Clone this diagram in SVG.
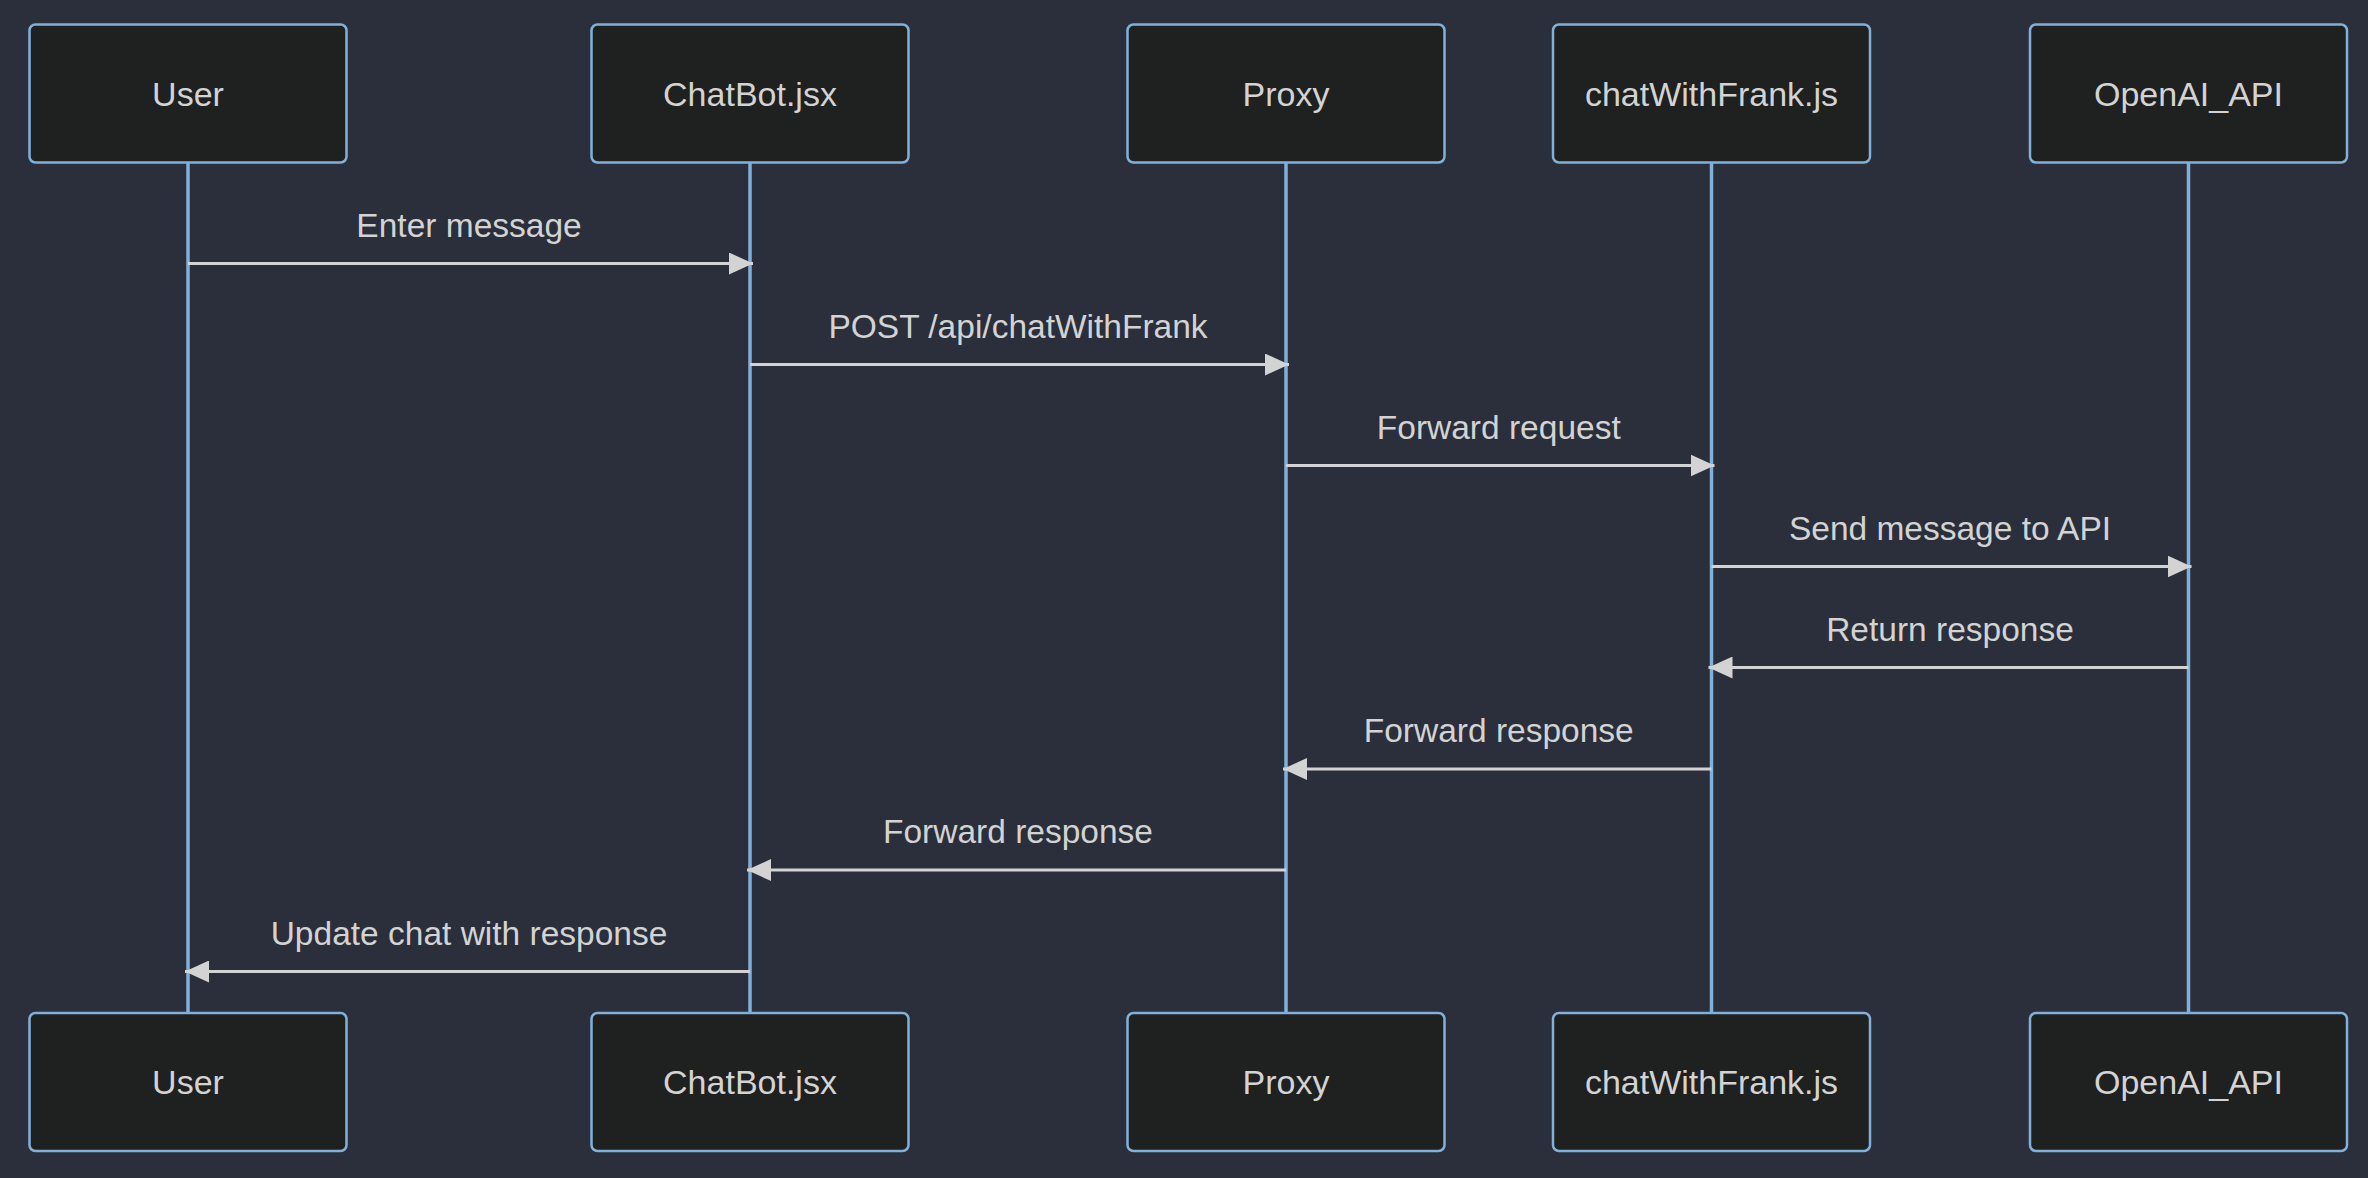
<svg xmlns="http://www.w3.org/2000/svg" width="2368" height="1178" viewBox="0 0 2368 1178">
<defs>
<style>
.bg{fill:#2a2f3b}
.actor rect{fill:#1f2020;stroke:#81b1db;stroke-width:2.5}
.actor text{fill:#d3d3d3;font-family:"Liberation Sans",Arial,sans-serif;font-size:34px;text-anchor:middle}
.life{stroke:#81b1db;stroke-width:3.5}
.msg line{stroke:#d3d3d3;stroke-width:3.2}
.msg text{fill:#d3d3d3;font-family:"Liberation Sans",Arial,sans-serif;font-size:33.5px;text-anchor:middle}
</style>
<marker id="arrow" viewBox="0 0 24 22" refX="24" refY="11" markerWidth="24" markerHeight="22" markerUnits="userSpaceOnUse" orient="auto">
<path d="M0,0 L24,11 L0,22 Z" fill="#d3d3d3"/>
</marker>
</defs>
<rect class="bg" x="0" y="0" width="2368" height="1178"/>
<g id="lifelines">
<line class="life" x1="188" y1="162" x2="188" y2="1013"/>
<line class="life" x1="750" y1="162" x2="750" y2="1013"/>
<line class="life" x1="1286" y1="162" x2="1286" y2="1013"/>
<line class="life" x1="1711.5" y1="162" x2="1711.5" y2="1013"/>
<line class="life" x1="2188.5" y1="162" x2="2188.5" y2="1013"/>
</g>
<g id="actor-user-top" class="actor"><rect x="29.5" y="24.5" width="317" height="138" rx="6"/><text x="188" y="105.5">User</text></g>
<g id="actor-chatbot-top" class="actor"><rect x="591.5" y="24.5" width="317" height="138" rx="6"/><text x="750" y="105.5">ChatBot.jsx</text></g>
<g id="actor-proxy-top" class="actor"><rect x="1127.5" y="24.5" width="317" height="138" rx="6"/><text x="1286" y="105.5">Proxy</text></g>
<g id="actor-chatwithfrank-top" class="actor"><rect x="1553" y="24.5" width="317" height="138" rx="6"/><text x="1711.5" y="105.5">chatWithFrank.js</text></g>
<g id="actor-openai-top" class="actor"><rect x="2030" y="24.5" width="317" height="138" rx="6"/><text x="2188.5" y="105.5">OpenAI_API</text></g>
<g id="actor-user-bottom" class="actor"><rect x="29.5" y="1013" width="317" height="138" rx="6"/><text x="188" y="1094">User</text></g>
<g id="actor-chatbot-bottom" class="actor"><rect x="591.5" y="1013" width="317" height="138" rx="6"/><text x="750" y="1094">ChatBot.jsx</text></g>
<g id="actor-proxy-bottom" class="actor"><rect x="1127.5" y="1013" width="317" height="138" rx="6"/><text x="1286" y="1094">Proxy</text></g>
<g id="actor-chatwithfrank-bottom" class="actor"><rect x="1553" y="1013" width="317" height="138" rx="6"/><text x="1711.5" y="1094">chatWithFrank.js</text></g>
<g id="actor-openai-bottom" class="actor"><rect x="2030" y="1013" width="317" height="138" rx="6"/><text x="2188.5" y="1094">OpenAI_API</text></g>
<g id="connectors" class="msg">
<line x1="188" y1="263.5" x2="753" y2="263.5" marker-end="url(#arrow)"/>
<text x="469" y="236.5">Enter message</text>
<line x1="750" y1="364.5" x2="1289" y2="364.5" marker-end="url(#arrow)"/>
<text x="1018" y="337.5">POST /api/chatWithFrank</text>
<line x1="1286" y1="465.5" x2="1714.5" y2="465.5" marker-end="url(#arrow)"/>
<text x="1498.75" y="438.5">Forward request</text>
<line x1="1711.5" y1="566.5" x2="2191.5" y2="566.5" marker-end="url(#arrow)"/>
<text x="1950" y="539.5">Send message to API</text>
<line x1="2188.5" y1="667.5" x2="1708.5" y2="667.5" marker-end="url(#arrow)"/>
<text x="1950" y="640.5">Return response</text>
<line x1="1711.5" y1="769" x2="1283" y2="769" marker-end="url(#arrow)"/>
<text x="1498.75" y="742">Forward response</text>
<line x1="1286" y1="870" x2="747" y2="870" marker-end="url(#arrow)"/>
<text x="1018" y="843">Forward response</text>
<line x1="750" y1="971.5" x2="185" y2="971.5" marker-end="url(#arrow)"/>
<text x="469" y="944.5">Update chat with response</text>
</g>
</svg>
